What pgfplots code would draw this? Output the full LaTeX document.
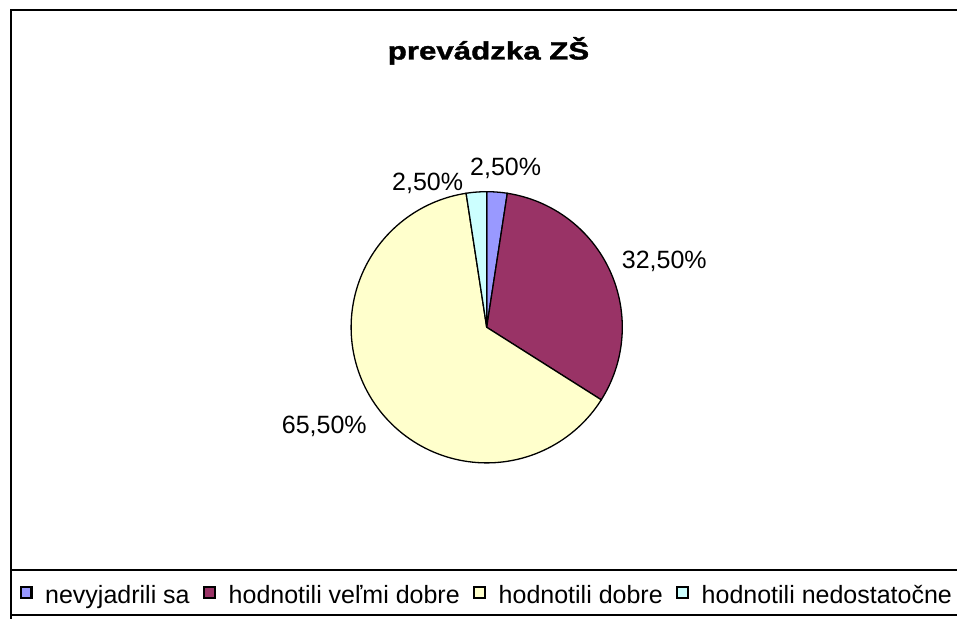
\documentclass[border=0pt]{standalone}
\usepackage{pgfplots}
\pgfplotsset{compat=1.18}
\usepackage{pgfplotstable}
\usepackage{fontspec}
\setmainfont{Liberation Sans}
\newfontfamily\titlefont[FakeStretch=1.25, FakeBold=1.5]{Liberation Sans Bold}
\definecolor{cblue}{HTML}{9999FF}
\definecolor{cmaroon}{HTML}{993366}
\definecolor{cyellow}{HTML}{FFFFCC}
\definecolor{ccyan}{HTML}{CCFFFF}

\pgfplotstableread{
idx value
0 2.5
1 32.5
2 65.5
3 2.5
}\piedata

\begin{document}
\begin{tikzpicture}
\pgfplotstablegetelem{0}{value}\of\piedata \let\va\pgfplotsretval
\pgfplotstablegetelem{1}{value}\of\piedata \let\vb\pgfplotsretval
\pgfplotstablegetelem{2}{value}\of\piedata \let\vc\pgfplotsretval
\pgfplotstablegetelem{3}{value}\of\piedata \let\vd\pgfplotsretval
\pgfmathsetmacro\tot{\va+\vb+\vc+\vd}
\pgfmathsetmacro\unitang{360/\tot}
\pgfmathsetmacro\aA{90}
\pgfmathsetmacro\aB{\aA-\unitang*\va}
\pgfmathsetmacro\aC{\aB-\unitang*\vb}
\pgfmathsetmacro\aD{\aC-\unitang*\vc}
\pgfmathsetmacro\aE{\aD-\unitang*\vd}
\def\cx{486.7}\def\cy{291.7}\def\rr{135.6}
\begin{axis}[
 width=957bp, height=619bp, scale only axis,
 xmin=0, xmax=957, ymin=0, ymax=619,
 hide axis, clip=false,
 legend columns=4,
 legend style={draw=none, fill=none, inner sep=0pt, at={(axis cs:13,24)}, anchor=west,
   font=\fontsize{25bp}{30bp}\selectfont, column sep=0pt,
   nodes={inner xsep=7bp, inner ysep=0pt}},
 legend image code/.code={\draw[#1, line width=2.2bp] (0.6bp,-3bp) rectangle (11.4bp,7.8bp); \path[draw=none,fill=none] (-7bp,0) -- (18bp,0);},
]
\addplot[fill=cblue, draw=black, line width=1.3bp, domain=\aB:\aA, samples=10]
  ({\cx+\rr*cos(x)},{\cy+\rr*sin(x)}) -- (axis cs:\cx,\cy) -- cycle;
\addlegendentry{nevyjadrili sa}
\addplot[fill=cmaroon, draw=black, line width=1.3bp, domain=\aC:\aB, samples=60]
  ({\cx+\rr*cos(x)},{\cy+\rr*sin(x)}) -- (axis cs:\cx,\cy) -- cycle;
\addlegendentry{hodnotili veľmi dobre}
\addplot[fill=cyellow, draw=black, line width=1.3bp, domain=\aD:\aC, samples=120]
  ({\cx+\rr*cos(x)},{\cy+\rr*sin(x)}) -- (axis cs:\cx,\cy) -- cycle;
\addlegendentry{hodnotili dobre}
\addplot[fill=ccyan, draw=black, line width=1.3bp, domain=\aE:\aD, samples=10]
  ({\cx+\rr*cos(x)},{\cy+\rr*sin(x)}) -- (axis cs:\cx,\cy) -- cycle;
\addlegendentry{hodnotili nedostatočne}

\node[anchor=base, inner sep=0pt] at (axis cs:488.5,559.5) {\titlefont\fontsize{25bp}{30bp}\selectfont prevádzka ZŠ};
\node[anchor=base west, inner sep=0pt, font=\fontsize{25bp}{30bp}\selectfont] at (axis cs:470,443) {2,50\%};
\node[anchor=base west, inner sep=0pt, font=\fontsize{25bp}{30bp}\selectfont] at (axis cs:392,428) {2,50\%};
\node[anchor=base west, inner sep=0pt, font=\fontsize{25bp}{30bp}\selectfont] at (axis cs:621.7,350) {32,50\%};
\node[anchor=base west, inner sep=0pt, font=\fontsize{25bp}{30bp}\selectfont] at (axis cs:281.7,185) {65,50\%};

\draw[line width=2bp] (axis cs:10.5,-5) -- (axis cs:10.5,609) -- (axis cs:965,609);
\draw[line width=2bp] (axis cs:10.5,48.7) -- (axis cs:965,48.7);
\draw[line width=2bp] (axis cs:10.5,3.7) -- (axis cs:965,3.7);
\end{axis}
\pgfresetboundingbox
\useasboundingbox (0,0) rectangle (957bp,619bp);
\end{tikzpicture}
\end{document}
